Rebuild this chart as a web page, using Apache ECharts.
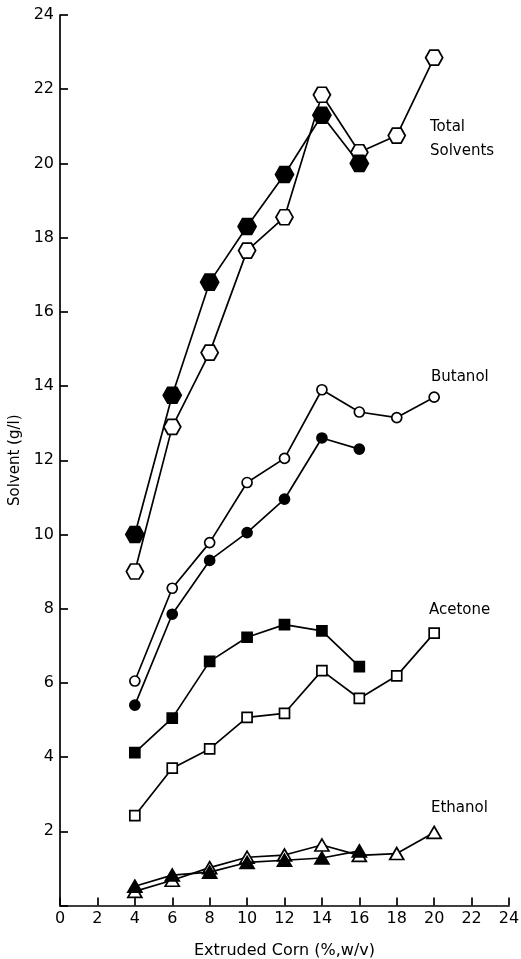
<!DOCTYPE html>
<html>
<head>
<meta charset="utf-8">
<script src="https://cdn.jsdelivr.net/npm/echarts@6/dist/echarts.min.js"></script>
<style>
html,body{margin:0;padding:0;background:#fff;}
#chart{width:521px;height:959px;}
</style>
</head>
<body>
<div id="chart"></div>
<script>
// ---- data ----
var xTicks = [0,2,4,6,8,10,12,14,16,18,20,22,24];
var yTicks = [2,4,6,8,10,12,14,16,18,20,22,24];

var xShort = [4,6,8,10,12,14,16];
var xLong  = [4,6,8,10,12,14,16,18,20];

var totalFilled   = [10.0,13.75,16.8,18.3,19.7,21.3,20.0];
var totalOpen     = [9.0,12.9,14.9,17.65,18.55,21.85,20.3,20.75,22.85];
var butanolFilled = [5.4,7.85,9.3,10.05,10.95,12.6,12.3];
var butanolOpen   = [6.05,8.55,9.78,11.4,12.05,13.9,13.3,13.15,13.7];
var acetoneFilled = [4.12,5.05,6.58,7.23,7.57,7.4,6.44];
var acetoneOpen   = [2.42,3.7,4.22,5.07,5.18,6.33,5.58,6.19,7.34];
var ethanolFilled = [0.52,0.82,0.9,1.16,1.22,1.28,1.47];
var ethanolOpen   = [0.38,0.68,1.02,1.3,1.36,1.63,1.35,1.4,1.97];

var seriesLabels = ['Total\nSolvents','Butanol','Acetone','Ethanol'];

function pairs(xs, ys){ return xs.map(function(x,i){ return [x, ys[i]]; }); }

var hexPath = 'path://M0,8.66 L5,0 L15,0 L20,8.66 L15,17.32 L5,17.32 Z';

function mk(name, xs, ys, symbol, size, filled){
  return {
    name: name, type: 'line', data: pairs(xs, ys),
    symbol: symbol, symbolSize: size, showSymbol: true,
    lineStyle: {color: '#000', width: 1.7},
    itemStyle: {color: filled ? '#000' : '#fff', borderColor: '#000', borderWidth: 1.7},
    z: filled ? 3 : 2,
    animation: false
  };
}

var chart = echarts.init(document.getElementById('chart'));
var font = 'DejaVu Sans';
var labelFont = '15px "DejaVu Sans"';
chart.setOption({
  backgroundColor: '#fff',
  animation: false,
  grid: {left: 60, right: 12, top: 15, bottom: 53.5, containLabel: false, outerBoundsMode: 'none'},
  xAxis: {
    type: 'value', min: 0, max: 24, interval: 2,
    name: 'Extruded Corn (%,w/v)', nameLocation: 'middle', nameGap: 37,
    nameTextStyle: {fontFamily: font, fontSize: 16, color: '#000'},
    axisLine: {lineStyle: {color: '#000', width: 1.7}},
    axisTick: {inside: true, length: 8, lineStyle: {color: '#000', width: 1.7}},
    axisLabel: {fontFamily: font, fontSize: 16, color: '#000', margin: 5},
    splitLine: {show: false}
  },
  yAxis: {
    type: 'value', min: 0, max: 24, interval: 2,
    name: 'Solvent (g/l)', nameLocation: 'middle', nameGap: 33,
    nameTextStyle: {fontFamily: font, fontSize: 15, color: '#000'},
    axisLine: {lineStyle: {color: '#000', width: 1.7}},
    axisTick: {inside: true, length: 8, lineStyle: {color: '#000', width: 1.7}},
    axisLabel: {fontFamily: font, fontSize: 16, color: '#000', margin: 6,
      formatter: function(v){ return yTicks.indexOf(v) >= 0 ? String(v) : ''; }},
    splitLine: {show: false}
  },
  series: [
    mk('Total open', xLong, totalOpen, hexPath, [17,15], false),
    mk('Total filled', xShort, totalFilled, hexPath, [18,16], true),
    mk('Butanol open', xLong, butanolOpen, 'circle', 10, false),
    mk('Butanol filled', xShort, butanolFilled, 'circle', 10, true),
    mk('Acetone open', xLong, acetoneOpen, 'rect', 10, false),
    mk('Acetone filled', xShort, acetoneFilled, 'rect', 10, true),
    mk('Ethanol open', xLong, ethanolOpen, 'triangle', [14,12], false),
    mk('Ethanol filled', xShort, ethanolFilled, 'triangle', [14,12], true)
  ],
  graphic: [
    {type: 'text', left: 430, top: 115, style: {text: seriesLabels[0], lineHeight: 24, font: labelFont, fill: '#000'}},
    {type: 'text', left: 431, top: 370, style: {text: seriesLabels[1], font: labelFont, fill: '#000'}},
    {type: 'text', left: 429, top: 603, style: {text: seriesLabels[2], font: labelFont, fill: '#000'}},
    {type: 'text', left: 431, top: 801, style: {text: seriesLabels[3], font: labelFont, fill: '#000'}}
  ]
});
</script>
</body>
</html>
